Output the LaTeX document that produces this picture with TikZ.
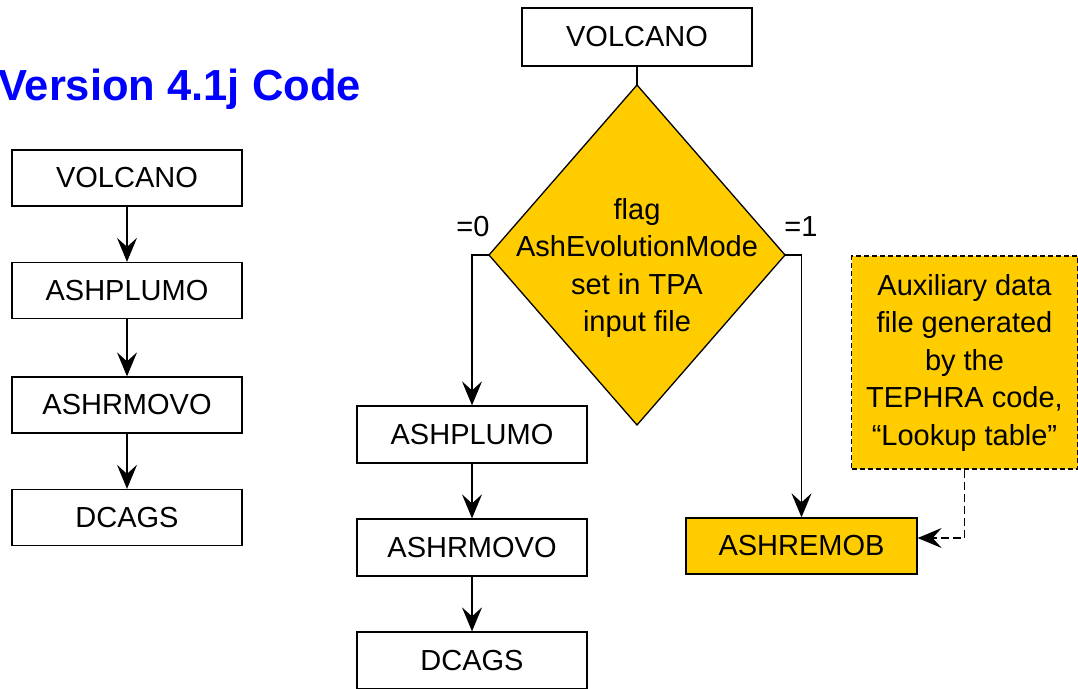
\documentclass[tikz,border=0pt]{standalone}
\usepackage{fontspec}
\setmainfont{Liberation Sans}
\usetikzlibrary{arrows.meta}
\definecolor{gold}{HTML}{FFCC00}
\definecolor{titleblue}{HTML}{0000FF}
\begin{document}
\begin{tikzpicture}[x=1pt,y=-1pt,
  txt/.style={font=\fontsize{29}{37.5}\selectfont, align=center, inner sep=0pt},
  box/.style={txt, draw, line width=1.3pt, minimum width=230pt, minimum height=56pt, fill=white},
  goldbox/.style={box, fill=gold},
  conn/.style={line width=1.3pt},
  arr/.style={conn, -{Stealth[length=24pt,width=20pt,inset=9pt]}},
  dasharr/.style={arr, dash pattern=on 8pt off 4pt}
]
\useasboundingbox (0,0) rectangle (1078,688);
% title
\node[anchor=base west, inner sep=0pt, text=titleblue, font=\bfseries\fontsize{43.5}{50}\selectfont] (title) at (-2,100) {Version 4.1j Code};
% left column
\node[box] (L1) at (127,178) {VOLCANO};
\node[box] (L2) at (127,290.5) {ASHPLUMO};
\node[box] (L3) at (127,405) {ASHRMOVO};
\node[box] (L4) at (127,517.5) {DCAGS};
\draw[arr] (L1) -- (L2);
\draw[arr] (L2) -- (L3);
\draw[arr] (L3) -- (L4);
% middle
\node[box, minimum height=58pt] (M0) at (637,37) {VOLCANO};
\coordinate (dtop) at (637,85);
\coordinate (dleft) at (489,255);
\coordinate (dright) at (785,255);
\coordinate (dbot) at (637,425);
\draw[conn, fill=gold] (dtop) -- (dright) -- (dbot) -- (dleft) -- cycle;
\node[txt] (dtext) at (637,268) {flag\\AshEvolutionMode\\set in TPA\\input file};
\draw[conn] (M0) -- (dtop);
\node[box, minimum height=57pt] (M1) at (472,434.5) {ASHPLUMO};
\node[box, minimum height=57pt] (M2) at (472,547.5) {ASHRMOVO};
\node[box, minimum height=57pt] (M3) at (472,660.5) {DCAGS};
\node[goldbox, minimum width=231pt] (R) at (801.5,546) {ASHREMOB};
\node[txt, minimum width=226pt, minimum height=213pt, fill=gold, draw, line width=1.3pt, dash pattern=on 5pt off 3pt] (aux) at (964.5,362.5) {Auxiliary data\\file generated\\by the\\TEPHRA code,\\“Lookup table”};
\node[txt] (l0) at (473,227) {=0};
\node[txt] (l1) at (801,227) {=1};
\draw[arr] (dleft) -| (M1.north);
\draw[arr] (dright) -| (R.north);
\draw[arr] (M1) -- (M2);
\draw[arr] (M2) -- (M3);
\draw[dasharr] (aux.south) |- ([yshift=8pt]R.east);
\end{tikzpicture}
\end{document}
